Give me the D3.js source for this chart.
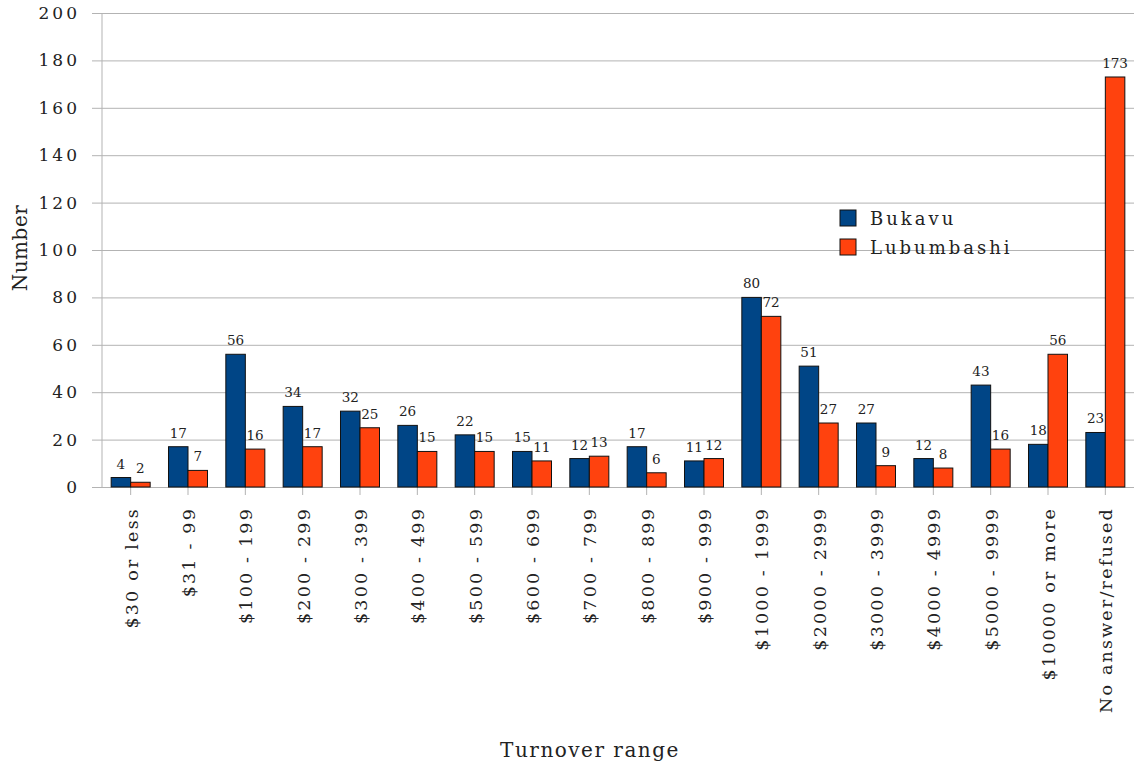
<!DOCTYPE html>
<html>
<head>
<meta charset="utf-8">
<script src="https://cdn.jsdelivr.net/npm/d3@7"></script>
<style>
  body { margin: 0; background: #fff; }
  svg text { font-family: "DejaVu Serif", serif; fill: #222; }
</style>
</head>
<body>
<svg id="chart" width="1134" height="767"></svg>
<script>
// data
var categories = ["$30 or less", "$31 - 99", "$100 - 199", "$200 - 299", "$300 - 399", "$400 - 499",
  "$500 - 599", "$600 - 699", "$700 - 799", "$800 - 899", "$900 - 999", "$1000 - 1999",
  "$2000 - 2999", "$3000 - 3999", "$4000 - 4999", "$5000 - 9999", "$10000 or more", "No answer/refused"];
var bukavu = [4, 17, 56, 34, 32, 26, 22, 15, 12, 17, 11, 80, 51, 27, 12, 43, 18, 23];
var lubumbashi = [2, 7, 16, 17, 25, 15, 15, 11, 13, 6, 12, 72, 27, 9, 8, 16, 56, 173];
var seriesNames = ["Bukavu", "Lubumbashi"];
var yTicks = [0, 20, 40, 60, 80, 100, 120, 140, 160, 180, 200];

var svg = d3.select('#chart'),
    plotLeft = 102, plotRight = 1134, plotTop = 13, plotBottom = 487;

var colors = d3.scaleOrdinal().domain(seriesNames).range(["#004586", "#ff420e"]);

var x = d3.scaleBand().domain(categories).range([plotLeft, plotRight]);
var x1 = d3.scaleBand().domain(seriesNames).range([0, x.bandwidth()]).paddingInner(0).paddingOuter(0.47);
var y = d3.scaleLinear().domain([0, 200]).range([plotBottom, plotTop]);

// grid lines + y labels
var yAxis = svg.append('g')
    .attr('transform', 'translate(' + plotLeft + ',0)')
    .call(d3.axisLeft(y).tickValues(yTicks).tickSize(-(plotRight - plotLeft)).tickSizeOuter(0).tickPadding(22));
yAxis.select('.domain').remove();
yAxis.selectAll('.tick line').attr('stroke', '#b3b3b3').attr('x1', -10);
yAxis.selectAll('.tick text')
    .style('font-size', '17px').style('letter-spacing', '3px').attr('fill', '#222');

// vertical axis line
svg.append('line').attr('x1', plotLeft).attr('x2', plotLeft).attr('y1', plotTop).attr('y2', plotBottom)
    .attr('stroke', '#b3b3b3');

// category ticks
svg.selectAll('.cat-tick').data(categories).enter().append('line')
    .attr('x1', d => x(d) + x.bandwidth() / 2).attr('x2', d => x(d) + x.bandwidth() / 2)
    .attr('y1', plotBottom).attr('y2', plotBottom + 8).attr('stroke', '#b3b3b3');

var rows = categories.map((c, i) => ({ cat: c, values: [bukavu[i], lubumbashi[i]] }));

var groups = svg.selectAll('.grp').data(rows).enter().append('g')
    .attr('transform', d => 'translate(' + x(d.cat) + ',0)');

groups.selectAll('rect').data(d => d.values.map((v, j) => ({ name: seriesNames[j], value: v })))
    .enter().append('rect')
    .attr('x', d => x1(d.name))
    .attr('width', x1.bandwidth())
    .attr('y', d => y(d.value))
    .attr('height', d => y(0) - y(d.value))
    .attr('fill', d => colors(d.name))
    .attr('stroke', '#111').attr('stroke-width', 1);

groups.selectAll('.val').data(d => d.values.map((v, j) => ({ name: seriesNames[j], value: v })))
    .enter().append('text')
    .attr('x', d => x1(d.name) + x1.bandwidth() / 2)
    .attr('y', d => y(d.value) - 9)
    .attr('text-anchor', 'middle')
    .style('font-size', '13.5px')
    .text(d => d.value);

// category labels, rotated
svg.selectAll('.cat').data(categories).enter().append('text')
    .attr('transform', d => 'translate(' + (x(d) + x.bandwidth() / 2 + 7) + ',' + (plotBottom + 20) + ') rotate(-90)')
    .attr('text-anchor', 'end')
    .style('font-size', '17.5px').style('letter-spacing', '2.2px')
    .text(d => d);

// axis titles
svg.append('text')
    .attr('x', 590).attr('y', 757).attr('text-anchor', 'middle')
    .style('font-size', '20px').style('letter-spacing', '1.5px')
    .text('Turnover range');

svg.append('text')
    .attr('transform', 'translate(27,248) rotate(-90)').attr('text-anchor', 'middle')
    .style('font-size', '20px').style('letter-spacing', '0.5px')
    .text('Number');

// legend
var legend = svg.selectAll('.legend').data(seriesNames).enter().append('g')
    .attr('transform', (d, i) => 'translate(840,' + (210 + i * 29) + ')');
legend.append('rect').attr('width', 16).attr('height', 16)
    .attr('fill', d => colors(d)).attr('stroke', '#111');
legend.append('text').attr('x', 30).attr('y', 15)
    .style('font-size', '18px').style('letter-spacing', '3px')
    .text(d => d);
</script>
</body>
</html>
